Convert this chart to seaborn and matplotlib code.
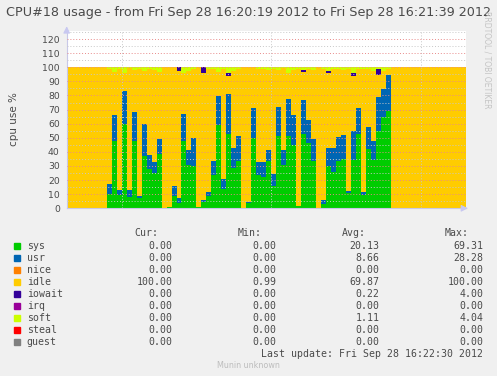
import numpy as np
import matplotlib
matplotlib.use("Agg")
import matplotlib.pyplot as plt
import seaborn as sns

# --- Data (1 sample per second) ---
TOTAL_SECONDS = 80          # 16:20:19 -> 16:21:39
ACTIVE_START = 8            # first second with load

sys_vals = [10, 48, 9.5, 60, 8.3, 47.6, 7.4, 37, 28, 25, 38.8, 0, 1, 9, 4, 48, 31, 29.7, 1, 4.3,
            9, 23.8, 59, 14, 53, 28.3, 33.3, 0, 4, 49.5, 23.5, 22, 33.5, 15.5, 51, 31, 51, 44.7,
            1.5, 52.4, 46, 33.3, 0, 3, 30, 26, 33.5, 35, 11, 34.5, 52.4, 9.5, 42.4, 34.5, 54.7,
            64.7, 69.3]
usr_vals = [7, 18, 3.5, 23, 4.7, 20.4, 1, 22.5, 10, 8, 10, 0, 0, 7, 3, 19, 10.6, 19.8, 0, 1.7,
            2.6, 10, 20.7, 7, 28.3, 14.7, 17.7, 0, 0.7, 21.5, 9.5, 10.6, 8.1, 9, 20.6, 10.6, 26.3,
            21.3, 0, 24.2, 16.4, 15.5, 0, 3, 12.6, 16.6, 17.2, 17, 1.3, 20, 18.6, 2.4, 15.4, 13.1,
            24.3, 19.8, 25.5]
iowait_vals = [0, 0, 0, 0, 0, 0, 0, 0, 0, 0, 0, 0, 0, 0, 2.6, 0, 0, 0, 0, 4, 0, 0, 0, 0, 2, 0, 0,
               0, 0, 0, 0, 0, 0, 0, 0, 0, 0, 0, 0, 1.2, 0, 0, 0, 0, 1.4, 0, 0, 0, 0, 2.4, 0, 0, 0,
               0, 4, 0, 0]
soft_vals = [1.4, 3.3, 1, 3.8, 0.5, 1.9, 1.4, 2.6, 1.4, 1.9, 3.3, 0, 0, 0, 0, 3.8, 2.6, 1.4, 0, 0,
             1.4, 1.4, 3.3, 1.4, 4, 2.6, 1.4, 0, 0, 0, 1.4, 1, 1.9, 1, 1.9, 0.5, 3.8, 2, 1.4, 2.1,
             1.4, 1.9, 0, 1, 2.6, 1.4, 1, 1.9, 1, 3.8, 1.4, 1, 1.4, 2.9, 1.4, 2.9, 1.4]

series_names = ["sys", "usr", "nice", "idle", "iowait", "irq", "soft", "steal", "guest"]
series_colors = ["#00cc00", "#0066b3", "#ff8000", "#ffcc00", "#330099",
                 "#990099", "#ccff00", "#ff0000", "#808080"]
cur_vals = ["0.00", "0.00", "0.00", "100.00", "0.00", "0.00", "0.00", "0.00", "0.00"]
min_vals = ["0.00", "0.00", "0.00", "0.99", "0.00", "0.00", "0.00", "0.00", "0.00"]
avg_vals = ["20.13", "8.66", "0.00", "69.87", "0.22", "0.00", "1.11", "0.00", "0.00"]
max_vals = ["69.31", "28.28", "0.00", "100.00", "4.00", "0.00", "4.04", "0.00", "0.00"]

x_ticks = [11, 41, 71]      # 16:20:30, 16:21:00, 16:21:30

sns.set_style("white")
plt.rcParams["font.family"] = ["DejaVu Sans"]

BG = "#f0f0f0"
TXT = "#4a4a4a"


def full_series(vals):
    arr = np.zeros(TOTAL_SECONDS)
    arr[ACTIVE_START:ACTIVE_START + len(vals)] = vals
    return arr


layers = {name: np.zeros(TOTAL_SECONDS) for name in series_names}
layers["sys"] = full_series(sys_vals)
layers["usr"] = full_series(usr_vals)
layers["iowait"] = full_series(iowait_vals)
layers["soft"] = full_series(soft_vals)
layers["idle"] = 100 - layers["sys"] - layers["usr"] - layers["iowait"] - layers["soft"]

fig = plt.figure(figsize=(4.97, 3.76), dpi=100, facecolor=BG)
ax = fig.add_axes([0.1342, 0.446, 0.8034, 0.4726])
ax.set_facecolor("white")

# stacked step areas
x = np.arange(TOTAL_SECONDS + 1)
base = np.zeros(TOTAL_SECONDS + 1)
for name, color in zip(series_names, series_colors):
    v = np.append(layers[name], layers[name][-1])
    ax.fill_between(x, base, base + v, step="post", color=color, linewidth=0)
    base = base + v

ax.set_xlim(0, TOTAL_SECONDS)
ax.set_ylim(0, 126)

# rrdtool style grid, drawn over the areas
ax.set_axisbelow(False)
ax.set_yticks(np.arange(0, 121, 10))
ax.set_yticks(np.arange(5, 126, 10), minor=True)
ax.set_xticks(x_ticks)
ax.set_xticklabels([])
ax.grid(axis="y", which="major", color="#e88a8a", linestyle=(0, (1, 2)), linewidth=0.7)
ax.grid(axis="y", which="minor", color="#c8c8c8", linestyle=(0, (1, 2)), linewidth=0.7)
ax.grid(axis="x", which="major", color="#c8c8c8", linestyle=(0, (1, 2)), linewidth=0.7)
ax.tick_params(axis="y", which="major", labelsize=6.7, labelcolor=TXT, length=2,
               color="#c8c8e0", pad=3)
ax.tick_params(axis="y", which="minor", length=1.5, color="#c8c8e0")
ax.tick_params(axis="x", which="major", length=2, color="#c8c8e0")

for side in ["top", "right"]:
    ax.spines[side].set_visible(False)
for side in ["left", "bottom"]:
    ax.spines[side].set_color("#c8c8e8")
    ax.spines[side].set_linewidth(0.8)

# axis arrows
ax.annotate("", xy=(0, 1.04), xytext=(0, 0.98), xycoords="axes fraction",
            arrowprops=dict(arrowstyle="-|>", color="#c8c8f0", lw=0.8), annotation_clip=False)
ax.annotate("", xy=(1.012, 0), xytext=(0.99, 0), xycoords="axes fraction",
            arrowprops=dict(arrowstyle="-|>", color="#c8c8f0", lw=0.8), annotation_clip=False)

ax.set_ylabel("cpu use %", fontsize=7.5, color=TXT)
ax.yaxis.set_label_coords(-0.12, 0.5)

fig.text(0.5, 0.966, "CPU#18 usage - from Fri Sep 28 16:20:19 2012 to Fri Sep 28 16:21:39 2012",
         ha="center", va="center", fontsize=9.15, color=TXT)
fig.text(487 / 497, 1 - 60 / 376, "RRDTOOL / TOBI OETIKER", rotation=270, ha="center",
         va="center", fontsize=5.5, color="#c4c4c4")

# legend table
W, H = 497.0, 376.0
mono = dict(family="DejaVu Sans Mono", fontsize=7.1, color=TXT)
for label, right in [("Cur:", 158), ("Min:", 262), ("Avg:", 366), ("Max:", 469)]:
    fig.text(right / W, 1 - 233.3 / H, label, ha="right", va="center", **mono)
for i, (name, color) in enumerate(zip(series_names, series_colors)):
    yy = 1 - (245.7 + 12 * i) / H
    fig.patches.append(plt.Rectangle((14 / W, yy - 3 / H), 6 / W, 6 / H, color=color,
                                     transform=fig.transFigure, figure=fig))
    fig.text(26.7 / W, yy, name, ha="left", va="center", **mono)
    for col, right in [(cur_vals, 172.3), (min_vals, 276), (avg_vals, 379.3), (max_vals, 483.3)]:
        fig.text(right / W, yy, col[i], ha="right", va="center", **mono)

fig.text(483.3 / W, 1 - 353.7 / H, "Last update: Fri Sep 28 16:22:30 2012", ha="right",
         va="center", **mono)
fig.text(248 / W, 1 - 365 / H, "Munin unknown", ha="center", va="center", fontsize=5.8,
         color="#bdbdbd")

fig.savefig("out.png", dpi=100, facecolor=BG)
